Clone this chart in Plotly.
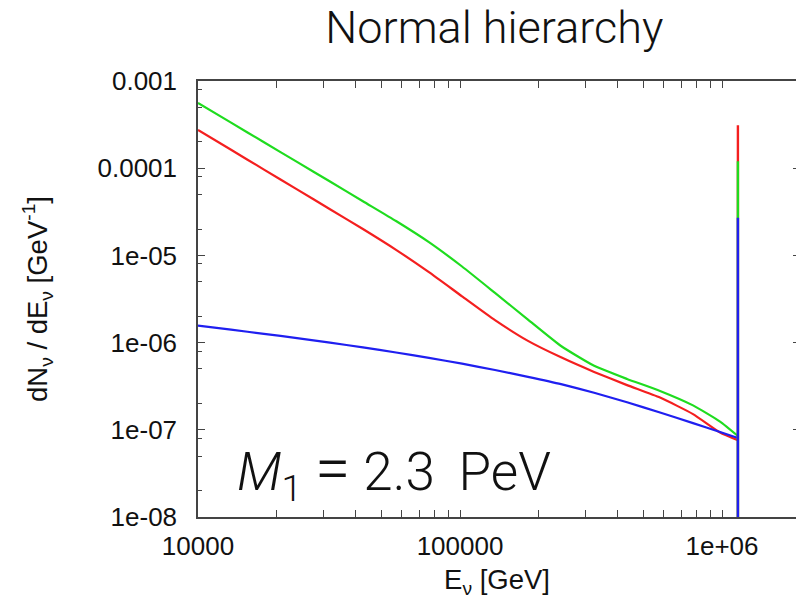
import plotly.graph_objects as go

# Neutrino energy grid (GeV) shared by the three flavour spectra
energy = [1.0e4, 1.337e4, 1.786e4, 2.387e4, 3.19e4, 4.26e4, 5.70e4, 7.61e4, 1.018e5,
          1.36e5, 1.817e5, 2.43e5, 3.25e5, 4.34e5, 5.80e5, 7.75e5, 9.83e5, 1.15e6]

# dN/dE (GeV^-1) for each flavour
dn_red = [2.742e-4, 1.626e-4, 9.64e-5, 5.71e-5, 3.387e-5, 2.008e-5, 1.159e-5, 6.42e-6, 3.396e-6,
          1.811e-6, 1.046e-6, 6.77e-7, 4.61e-7, 3.255e-7, 2.34e-7, 1.514e-7, 9.31e-8, 7.60e-8]
dn_green = [5.594e-4, 3.333e-4, 1.982e-4, 1.181e-4, 7.04e-5, 4.18e-5, 2.48e-5, 1.42e-5, 7.46e-6,
            3.715e-6, 1.835e-6, 9.14e-7, 5.42e-7, 3.83e-7, 2.79e-7, 1.905e-7, 1.242e-7, 8.49e-8]
dn_blue = [1.562e-6, 1.406e-6, 1.261e-6, 1.126e-6, 1.0e-6, 8.81e-7, 7.70e-7, 6.68e-7, 5.73e-7,
           4.85e-7, 4.05e-7, 3.342e-7, 2.663e-7, 2.067e-7, 1.579e-7, 1.193e-7, 9.44e-8, 8.07e-8]

# Line at E = M1/2 from the two-body decay, with each flavour's peak height
e_line = 1.15e6
peak_red, peak_green, peak_blue = 3.1e-4, 1.2e-4, 2.7e-5
floor_value = 1e-8

x_tickvals = [1e4, 1e5, 1e6]
x_ticktext = ["10000", "100000", "1e+06"]
y_tickvals = [1e-3, 1e-4, 1e-5, 1e-6, 1e-7, 1e-8]
y_ticktext = ["0.001", "0.0001", "1e-05", "1e-06", "1e-07", "1e-08"]
y_minor = [m * 10.0 ** k for k in range(-8, -3) for m in (2, 5, 8)]

RED, GREEN, BLUE = "#f41f1f", "#1fdc1f", "#1f1ff0"
AXIS = "#444444"
LW = 2.2

fig = go.Figure()
for dn, col in [(dn_red, RED), (dn_green, GREEN), (dn_blue, BLUE)]:
    fig.add_trace(go.Scatter(x=energy, y=dn, mode="lines",
                             line=dict(color=col, width=LW, shape="spline", smoothing=0.5),
                             showlegend=False, hoverinfo="skip"))
for peak, col in [(peak_red, RED), (peak_green, GREEN), (peak_blue, BLUE)]:
    fig.add_trace(go.Scatter(x=[e_line, e_line], y=[floor_value, peak], mode="lines",
                             line=dict(color=col, width=2.4), showlegend=False, hoverinfo="skip"))

# Mirror axis on the right carrying only tick marks
fig.add_trace(go.Scatter(x=[e_line], y=[1e-7], yaxis="y2", mode="markers", marker=dict(opacity=0),
                         showlegend=False, hoverinfo="skip"))

SANS = "Liberation Sans, Arial, sans-serif"
tick_font = dict(family=SANS, size=26, color="#111111")
title_font = dict(family=SANS, size=27.5, color="#111111")

mass_label = ("<i>M</i><sub>1</sub>\u00a0<span style='font-size:64px'>=</span>\u00a0"
              "2.3\u2009\u00a0PeV")

fig.update_layout(
    width=796, height=603,
    margin=dict(l=198, r=0, t=81, b=86),
    paper_bgcolor="white", plot_bgcolor="white",
    title=dict(text="Normal hierarchy", x=0.621, xanchor="center", y=0.929, yanchor="bottom",
               font=dict(family="Roboto", weight=300, size=45, color="#111111")),
    xaxis=dict(type="log", range=[4, 6.2824], showgrid=False, zeroline=False,
               showline=True, linecolor=AXIS, linewidth=1.5, mirror="allticks",
               ticks="inside", ticklen=7, tickwidth=1.3, tickcolor=AXIS,
               tickvals=x_tickvals, ticktext=x_ticktext, tickfont=tick_font,
               ticklabelstandoff=5,
               minor=dict(ticks="inside", ticklen=4, tickwidth=1.1, tickcolor=AXIS, dtick="D1"),
               title=dict(text="E<sub>ν</sub> [GeV]", font=title_font, standoff=10)),
    yaxis=dict(type="log", range=[-8, -3], showgrid=False, zeroline=False,
               showline=True, linecolor=AXIS, linewidth=1.5, mirror=False,
               ticks="inside", ticklen=7, tickwidth=1.3, tickcolor=AXIS,
               tickvals=y_tickvals, ticktext=y_ticktext, tickfont=tick_font,
               ticklabelstandoff=14,
               minor=dict(ticks="inside", ticklen=4, tickwidth=1.1, tickcolor=AXIS, tickvals=y_minor),
               title=dict(text="dN<sub>ν</sub> / dE<sub>ν</sub> [GeV<sup>-1</sup>]",
                          font=title_font, standoff=42)),
    yaxis2=dict(type="log", range=[-8, -3], overlaying="y", side="right", anchor="x",
                showgrid=False, zeroline=False, showline=False, showticklabels=False,
                ticks="inside", ticklen=3, tickwidth=1.3, tickcolor=AXIS, tickvals=y_tickvals),
    annotations=[dict(text=mass_label, xref="paper", yref="paper",
                      x=0.062, y=0.012, xanchor="left", yanchor="bottom", showarrow=False,
                      font=dict(family="Roboto", weight=300, size=53, color="#111111"))],
)

fig.write_html("out.html")
